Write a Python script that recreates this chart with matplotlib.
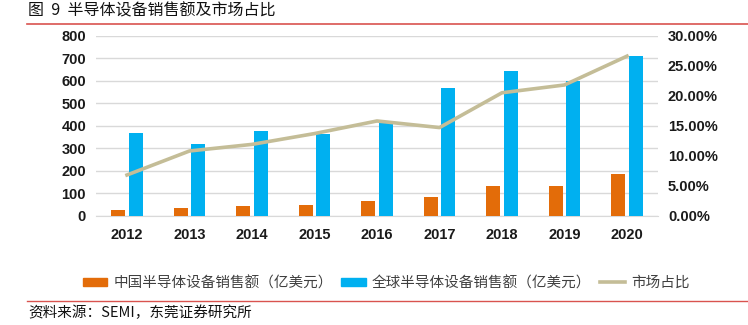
import matplotlib.pyplot as plt
import numpy as np
from matplotlib.lines import Line2D

plt.rcParams['font.family'] = ['Noto Sans CJK SC', 'DejaVu Sans']

# data
years = ["2012", "2013", "2014", "2015", "2016", "2017", "2018", "2019", "2020"]
china_sales = [25, 34, 44, 49, 65, 82, 131, 134, 187]
global_sales = [369, 318, 375, 365, 412, 566, 645, 598, 712]
market_share = [6.8, 10.8, 11.9, 13.7, 15.8, 14.7, 20.5, 21.8, 26.6]

ORANGE = "#E36C09"
BLUE = "#00B0F0"
TAN = "#C4BD97"
RED = "#D9534F"

fig = plt.figure(figsize=(7.48, 3.25), dpi=100)
ax = fig.add_axes([0.128, 0.336, 0.752, 0.554])
ax2 = ax.twinx()

x = np.arange(len(years))
w = 0.225
ax.bar(x - w / 2 - 0.025, china_sales, width=w, color=ORANGE, zorder=3)
ax.bar(x + w / 2 + 0.025, global_sales, width=w, color=BLUE, zorder=3)
ax2.plot(x, market_share, color=TAN, linewidth=2.6, zorder=4)

ax.set_xlim(-0.5, len(years) - 0.5)
ax.set_ylim(0, 800)
ax.set_yticks(range(0, 801, 100))
ax2.set_ylim(0, 30)
ax2.set_yticks(range(0, 31, 5))
ax2.set_yticklabels([f"{v:.2f}%" for v in range(0, 31, 5)])
ax.set_xticks(x)
ax.set_xticklabels(years)

ax.grid(axis="y", color="#D9D9D9", linewidth=1, zorder=0)
for a in (ax, ax2):
    for s in a.spines.values():
        s.set_visible(False)
    a.tick_params(length=0)
ax.spines["bottom"].set_visible(True)
ax.spines["bottom"].set_color("#D9D9D9")

for lab in ax.get_yticklabels() + ax.get_xticklabels() + ax2.get_yticklabels():
    lab.set_fontfamily("Liberation Sans")
    lab.set_fontweight("bold")
    lab.set_fontsize(10.5)
    lab.set_color("#1a1a1a")
ax.tick_params(axis="y", pad=7)
ax.tick_params(axis="x", pad=9)
ax2.tick_params(axis="y", pad=7)

# title and rules
fig.text(28 / 748, 1 - 11 / 325, "图  9  半导体设备销售额及市场占比", fontsize=11.5,
         va="center", ha="left", color="#111111")
fig.add_artist(Line2D([27 / 748, 1.0], [1 - 23.5 / 325] * 2, color=RED, linewidth=1.2))
fig.add_artist(Line2D([27 / 748, 1.0], [1 - 300.5 / 325] * 2, color=RED, linewidth=1.0))
fig.text(28 / 748, 1 - 313 / 325, "资料来源：SEMI，东莞证券研究所", fontsize=10.5,
         va="center", ha="left", color="#111111")

handles = [
    plt.Rectangle((0, 0), 1, 1, color=ORANGE),
    plt.Rectangle((0, 0), 1, 1, color=BLUE),
    Line2D([0], [0], color=TAN, linewidth=2.6),
]
labels = ["中国半导体设备销售额（亿美元）", "全球半导体设备销售额（亿美元）", "市场占比"]
fig.legend(handles, labels, loc="center", bbox_to_anchor=(386 / 748, 1 - 283 / 325),
           ncol=3, frameon=False, fontsize=10.5, handlelength=1.7, handleheight=0.55,
           handletextpad=0.4, columnspacing=0.6, labelcolor="#404040")

fig.savefig("out.png", dpi=100)
